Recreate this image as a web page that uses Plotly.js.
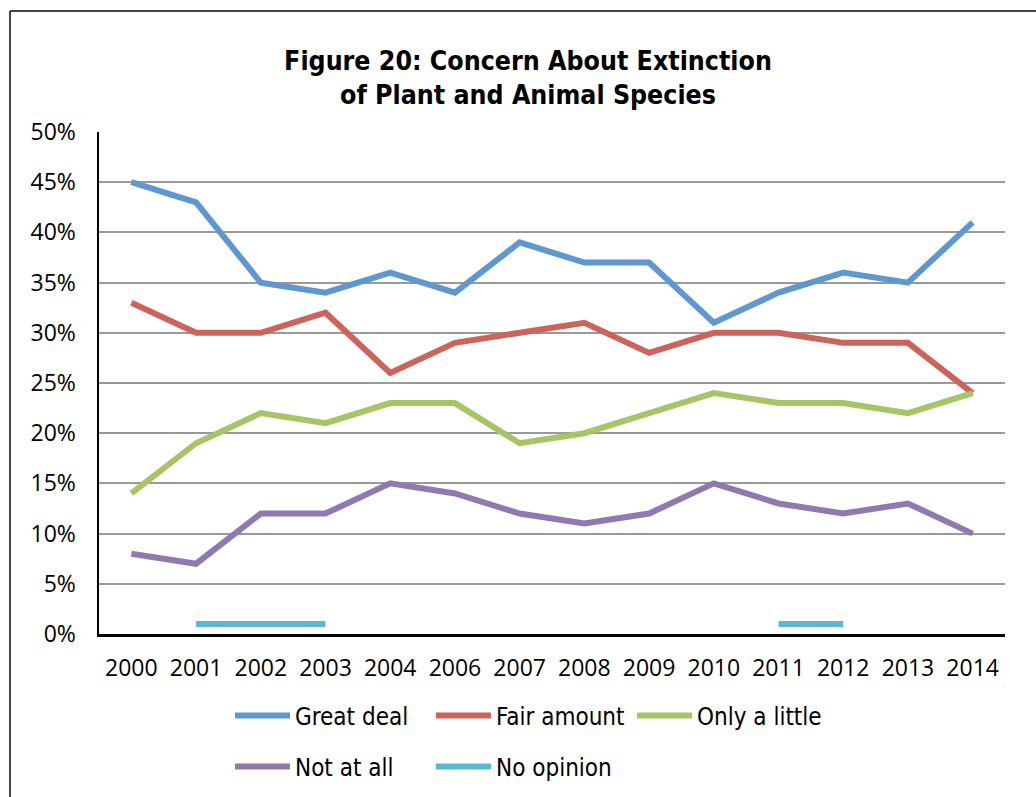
<!DOCTYPE html>
<html>
<head>
<meta charset="utf-8">
<script src="https://cdn.plot.ly/plotly-3.0.1.min.js"></script>
<style>html,body{margin:0;padding:0;background:#fff;}#chart{width:1036px;height:797px;}</style>
</head>
<body>
<div id="chart"></div>
<script>
const years = ["2000","2001","2002","2003","2004","2006","2007","2008","2009","2010","2011","2012","2013","2014"];
const greatDeal = [45,43,35,34,36,34,39,37,37,31,34,36,35,41];
const fairAmount = [33,30,30,32,26,29,30,31,28,30,30,29,29,24];
const onlyALittle = [14,19,22,21,23,23,19,20,22,24,23,23,22,24];
const notAtAll = [8,7,12,12,15,14,12,11,12,15,13,12,13,10];
const noOpinion = [null,1,1,1,null,null,null,null,null,null,1,1,null,null];
const seriesNames = ["Great deal","Fair amount","Only a little","Not at all","No opinion"];
const yTicks = [0,5,10,15,20,25,30,35,40,45,50];
const yTickLabels = yTicks.map(v => v + "%");

const colors = ["#5E98CE","#CD645C","#A8C566","#9079B2","#5AB9D2"];
const seriesData = [greatDeal, fairAmount, onlyALittle, notAtAll, noOpinion];
const legendFor = ["legend","legend","legend","legend2","legend2"];

const traces = seriesData.map((vals, i) => ({
  type: "scatter",
  mode: "lines",
  x: years,
  y: vals,
  name: seriesNames[i],
  legend: legendFor[i],
  connectgaps: false,
  line: {color: colors[i], width: 6},
  hoverinfo: "skip"
}));

const L = 99, R = 1005, T = 132, B = 634, W = 1036, H = 797;
const px = x => (x - L) / (R - L);
const py = y => (B - y) / (B - T);
const cy = y => (H - y) / H;

const legendFont = {family: "DejaVu Sans Condensed, DejaVu Sans, sans-serif", size: 24, color: "#000"};

const layout = {
  width: W, height: H,
  margin: {l: L, r: W - R, t: T, b: H - B},
  paper_bgcolor: "#fff",
  plot_bgcolor: "#fff",
  showlegend: true,
  title: {
    text: "<b>Figure 20: Concern About Extinction<br>of Plant and Animal Species</b>",
    font: {family: "DejaVu Sans Condensed, DejaVu Sans, sans-serif", size: 26.5, color: "#000"},
    x: 528 / W, xanchor: "center", xref: "container",
    y: 1 - 69.5 / H, yanchor: "middle", yref: "container"
  },
  xaxis: {
    type: "category",
    range: [-0.5, 13.5],
    showgrid: false,
    showline: true, linecolor: "#000", linewidth: 2.5,
    ticks: "", ticklabelstandoff: 12,
    tickfont: {family: "Open Sans, sans-serif", size: 23, color: "#000"},
    fixedrange: true, zeroline: false
  },
  yaxis: {
    range: [0, 50],
    tickvals: yTicks, ticktext: yTickLabels,
    showgrid: true, gridcolor: "#9a9a9a", gridwidth: 2,
    showline: true, linecolor: "#000", linewidth: 2.5,
    ticks: "", ticklabelstandoff: 16,
    tickfont: {family: "Open Sans, sans-serif", size: 23, color: "#000"},
    zeroline: false, fixedrange: true
  },
  legend: {
    orientation: "h",
    x: px(230), xanchor: "left",
    yref: "container", y: cy(716), yanchor: "middle",
    entrywidth: 131, entrywidthmode: "pixels",
    itemwidth: 55,
    font: legendFont,
    bgcolor: "rgba(0,0,0,0)",
    traceorder: "normal"
  },
  legend2: {
    orientation: "h",
    x: px(230), xanchor: "left",
    yref: "container", y: cy(767), yanchor: "middle",
    entrywidth: 131, entrywidthmode: "pixels",
    itemwidth: 55,
    font: legendFont,
    bgcolor: "rgba(0,0,0,0)",
    traceorder: "normal"
  },
  shapes: [
    {type: "line", xref: "paper", yref: "paper", x0: px(10), x1: px(1036), y0: py(11), y1: py(11), line: {color: "#444", width: 2}},
    {type: "line", xref: "paper", yref: "paper", x0: px(10), x1: px(10), y0: py(11), y1: py(797), line: {color: "#444", width: 2}}
  ]
};

Plotly.newPlot("chart", traces, layout, {displayModeBar: false, staticPlot: true});
</script>
</body>
</html>
